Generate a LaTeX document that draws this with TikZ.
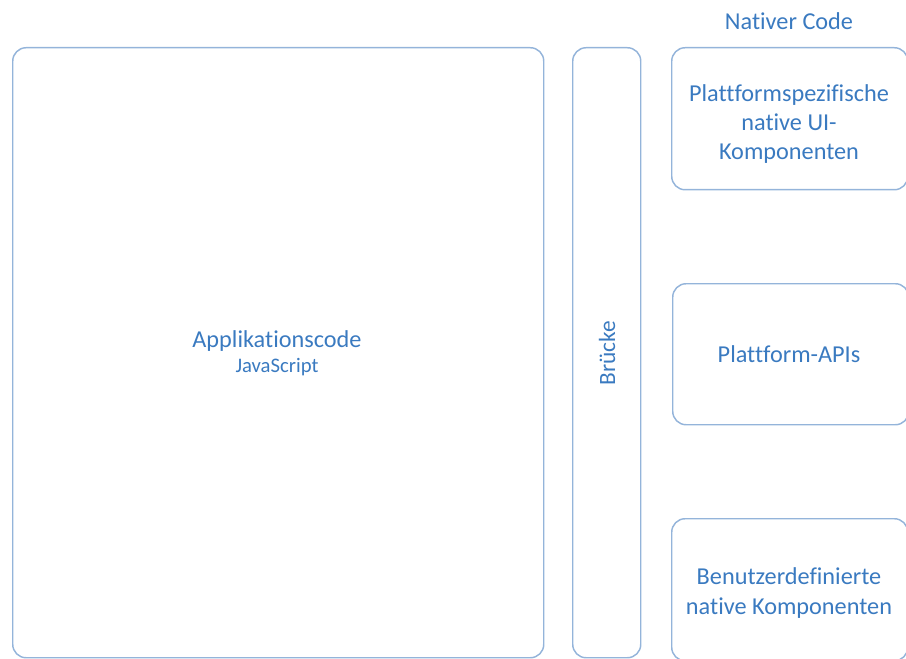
\documentclass[tikz,border=0pt]{standalone}
\usepackage{fontspec}
\setmainfont{Carlito}[Ligatures=NoCommon]
\definecolor{txtblue}{RGB}{58,122,192}
\definecolor{lineblue}{RGB}{148,180,218}
\begin{document}
\begin{tikzpicture}[x=0.75pt,y=-0.75pt,
  box/.style={draw=lineblue,line width=1.1pt,rounded corners=10pt,inner sep=0pt,anchor=north west},
  lbl/.style={text=txtblue,font=\fontsize{18.2}{22}\selectfont,align=center}]
\useasboundingbox (0,0) rectangle (906,659);
\clip (0,0) rectangle (906,659);
\node[box,minimum width=531*0.75pt,minimum height=610*0.75pt] (app) at (12,47) {};
\node[box,minimum width=68*0.75pt,minimum height=610*0.75pt] (bridge) at (572,47) {};
\node[box,minimum width=236*0.75pt,minimum height=142*0.75pt] (ui) at (671,47) {};
\node[box,minimum width=236*0.75pt,minimum height=141*0.75pt] (api) at (672,283) {};
\node[box,minimum width=236*0.75pt,minimum height=142*0.75pt] (custom) at (671,518) {};
\node[lbl] (apptext) at (277,353) {Applikationscode\\[-3pt]{\fontsize{15.5}{18}\selectfont JavaScript}};
\node[lbl,rotate=90,font=\fontsize{17.5}{21}\selectfont] (bridgetext) at (607,353) {Brücke};
\node[lbl] (native) at (789,21) {Nativer Code};
\node[lbl] (uitext) at (789,124) {Plattformspezifische\\native UI-\\Komponenten};
\node[lbl] (apitext) at (789,354) {Plattform-APIs};
\node[lbl] (customtext) at (789,593) {Benutzerdefinierte\\native Komponenten};
\end{tikzpicture}
\end{document}
